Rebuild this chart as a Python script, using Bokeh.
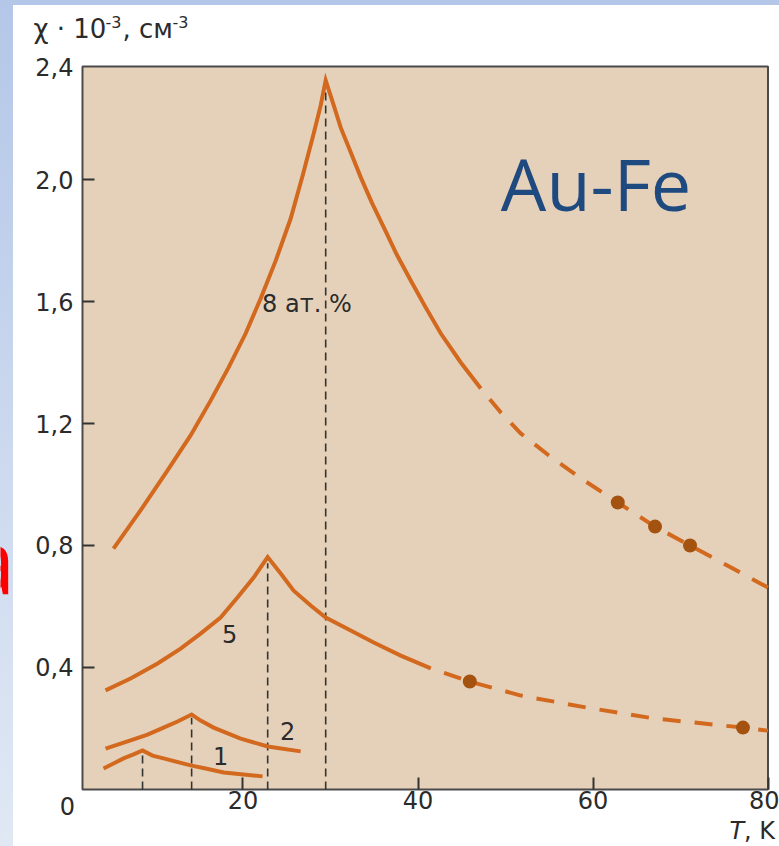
from bokeh.plotting import figure
from bokeh.models import FixedTicker, CustomJSTickFormatter, Label, BoxAnnotation
from bokeh.embed import file_html
from bokeh.resources import INLINE

# ---------------- data ----------------
# 8 at.% curve: solid part and dashed extrapolation
t8_solid = [5.20, 8.29, 11.38, 14.01, 16.30, 18.36, 20.30, 22.02, 23.74, 25.45,
            26.82, 28.08, 28.88, 29.45,
            30.37, 31.17, 32.31, 33.46, 34.71, 36.09, 37.57, 39.17, 40.89,
            42.61, 44.89, 47.18]
chi8_solid = [0.790, 0.915, 1.046, 1.161, 1.275, 1.384, 1.495, 1.610, 1.734, 1.872,
              2.013, 2.151, 2.243, 2.325,
              2.243, 2.170, 2.089, 2.007, 1.925, 1.843, 1.754, 1.669, 1.580,
              1.495, 1.400, 1.315]
t8_dash = [47.18, 49.47, 51.76, 54.96, 58.62, 62.83, 67.09, 71.09, 75.78, 80.0]
chi8_dash = [1.315, 1.236, 1.167, 1.095, 1.020, 0.941, 0.862, 0.800, 0.728, 0.662]
t8_pts = [62.83, 67.09, 71.09]
chi8_pts = [0.941, 0.862, 0.800]

# 5 at.% curve
t5_solid = [4.29, 7.15, 10.24, 12.87, 15.15, 17.44, 19.39, 21.22, 22.82,
            24.31, 25.79, 27.74, 29.45, 32.31, 34.94, 38.03, 41.46]
chi5_solid = [0.325, 0.364, 0.413, 0.462, 0.511, 0.564, 0.630, 0.695, 0.762,
              0.708, 0.652, 0.603, 0.564, 0.521, 0.482, 0.439, 0.397]
t5_dash = [41.46, 45.92, 51.76, 59.19, 66.97, 77.14, 80.0]
chi5_dash = [0.397, 0.354, 0.308, 0.269, 0.233, 0.203, 0.193]
t5_pts = [45.92, 77.14]
chi5_pts = [0.354, 0.203]

# 2 at.% curve
t2 = [4.29, 7.15, 9.09, 10.92, 12.52, 14.13, 15.15, 16.64, 19.73, 22.82, 26.59]
chi2 = [0.134, 0.161, 0.180, 0.203, 0.223, 0.246, 0.226, 0.203, 0.167, 0.141, 0.125]

# 1 at.% curve
t1 = [4.06, 5.20, 6.35, 7.49, 8.52, 9.66, 10.92, 14.01, 15.73, 17.79, 22.24]
chi1 = [0.069, 0.085, 0.102, 0.115, 0.128, 0.111, 0.102, 0.079, 0.069, 0.056, 0.043]

# freezing temperatures (dashed verticals)
tf = [8.52, 14.13, 22.82, 29.45]
chif = [0.120, 0.235, 0.742, 2.300]

x_ticks = [20, 40, 60, 80]
y_ticks = [0.4, 0.8, 1.2, 1.6, 2.0]
x_box = (1.657, 80.0)      # visible plotting box (T)
y_box = (0.0, 2.3705)      # visible plotting box (chi)

curve_labels = ["8 ат. %", "5", "2", "1"]
curve_label_t = [27.3, 18.47, 25.1, 17.44]
curve_label_chi = [1.593, 0.511, 0.193, 0.111]

# ---------------- styles ----------------
ORANGE = "#d2691e"
DOT = "#a4520f"
TXT = "#2b2b2b"
FONT = "DejaVu Sans"

p = figure(width=779, height=846, x_range=(-7.714, 81.314), y_range=(-0.1869, 2.5869),
           output_backend="svg", toolbar_location=None,
           min_border_left=0, min_border_right=0,
           min_border_top=0, min_border_bottom=0)
p.border_fill_color = None
p.background_fill_color = None
p.outline_line_color = None
p.styles = {
    "background": "linear-gradient(#ffffff, #ffffff) 13px 5px / 766px 841px no-repeat, "
                  "linear-gradient(to bottom, #b4c7e8, #e0e8f4)"
}
p.xgrid.visible = False
p.ygrid.visible = False

# plotting box (beige with dark frame)
p.add_layout(BoxAnnotation(left=x_box[0], right=x_box[1], bottom=y_box[0], top=y_box[1],
                           fill_color="#e5d1b9", fill_alpha=1.0,
                           line_color="#4a4a4a", line_width=2, line_alpha=1.0,
                           level="underlay"))

for ax in (p.xaxis[0], p.yaxis[0]):
    ax.axis_line_color = None
    ax.major_tick_in = 12
    ax.major_tick_out = 0
    ax.major_tick_line_color = "#333333"
    ax.major_tick_line_width = 2
    ax.minor_tick_line_color = None
    ax.major_label_text_font = FONT
    ax.major_label_text_font_size = "24px"
    ax.major_label_text_color = TXT

p.xaxis.fixed_location = y_box[0]
p.yaxis.fixed_location = x_box[0]
p.xaxis.ticker = FixedTicker(ticks=x_ticks)
p.yaxis.ticker = FixedTicker(ticks=y_ticks)
p.xaxis.major_label_standoff = 2
p.yaxis.major_label_standoff = 9
p.yaxis.formatter = CustomJSTickFormatter(code="return tick.toFixed(1).replace('.', ',');")
p.xaxis.formatter = CustomJSTickFormatter(code="return tick.toFixed(0);")

# dashed verticals
p.segment(x0=tf, y0=[0] * len(tf), x1=tf, y1=chif, line_color="#333333",
          line_width=1.6, line_dash="8 5")

# curves
for xs, ys in ((t8_solid, chi8_solid), (t5_solid, chi5_solid), (t2, chi2), (t1, chi1)):
    p.line(xs, ys, line_color=ORANGE, line_width=4, line_join="miter")
for xs, ys in ((t8_dash, chi8_dash), (t5_dash, chi5_dash)):
    p.line(xs, ys, line_color=ORANGE, line_width=4, line_dash="18 14",
           line_dash_offset=18)
p.scatter(t8_pts + t5_pts, chi8_pts + chi5_pts, size=14, fill_color=DOT,
          line_color=None)


def label(x, y, text, **kw):
    opts = dict(text_font=FONT, text_font_size="24px", text_color=TXT,
                text_baseline="middle")
    opts.update(kw)
    p.add_layout(Label(x=x, y=y, text=text, **opts))


# curve labels
for txt, tx, ty in zip(curve_labels, curve_label_t, curve_label_chi):
    label(tx, ty, txt, text_align="center")

# "Au-Fe"
label(49.47, 1.990, "Au-Fe", text_font="Open Sans", text_font_size="72px",
      text_color="#1f4a80", text_baseline="alphabetic")

# texts around the box
label(-0.057, -0.0525, "0", text_align="center")
label(0.629, 2.370, "2,4", text_align="right")
# axis title: χ · 10^-3, см^-3
label(-3.943, 2.492, "χ · 10", text_font_size="26px")
label(4.286, 2.516, "-3", text_font_size="16px")
label(6.229, 2.492, ", см", text_font_size="26px")
label(11.94, 2.516, "-3", text_font_size="16px")
# x axis title: T, K
label(75.60, -0.1377, "T", text_font_style="italic", text_font_size="24px")
label(77.26, -0.1377, ", K", text_font_size="24px")

# slide text fragment at the left edge
label(-11.71, 0.756, "а", text_font="Open Sans", text_font_size="90px",
      text_color="#ff0000", text_baseline="alphabetic")

open("out.html", "w").write(file_html(p, INLINE))
